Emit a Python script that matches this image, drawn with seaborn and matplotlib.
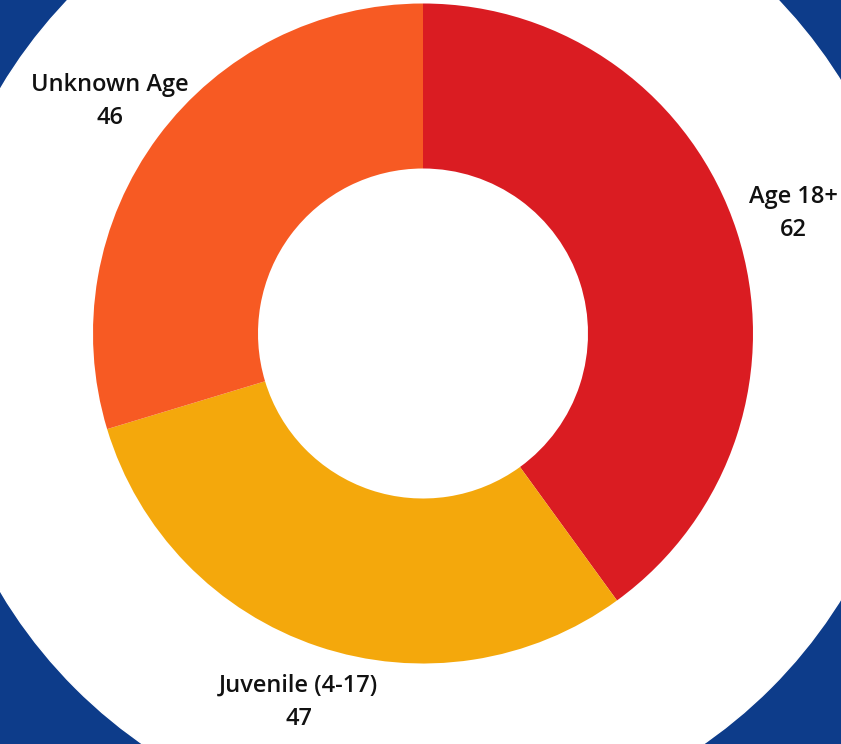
import numpy as np
import matplotlib
matplotlib.use("Agg")
import matplotlib.pyplot as plt
import seaborn as sns

# data
categories = ["Age 18+", "Juvenile (4-17)", "Unknown Age"]
counts = [62, 47, 46]
colors = ["#da1c22", "#f4a80c", "#f75a23"]

BLUE = "#0d3c8a"

sns.set_theme(style="white")
plt.rcParams["font.family"] = ["Open Sans", "DejaVu Sans"]

fig = plt.figure(figsize=(8.41, 7.44), dpi=100, facecolor=BLUE)
ax = fig.add_axes([0, 0, 1, 1])
ax.set_facecolor(BLUE)

# pixel scale: donut radius 330 px, centre at (423, 333.5)
scale = 330.0
xlim = (-423 / scale, (841 - 423) / scale)
ylim = (-(744 - 333.5) / scale, 333.5 / scale)
ax.axis("off")

# big white disc behind the donut
ax.add_patch(plt.Circle((0, -0.02), 1.49, color="white", zorder=0))

labels = [f"{c}\n{v}" for c, v in zip(categories, counts)]
wedges, texts = ax.pie(
    counts,
    labels=labels,
    colors=sns.color_palette(colors),
    startangle=90,
    counterclock=False,
    radius=1.0,
    labeldistance=1.18,
    wedgeprops=dict(width=0.5, edgecolor="none"),
    textprops=dict(fontsize=17, color="#111111", fontweight="semibold"),
)
for t in texts:
    t.set_ha("center")
    t.set_va("center")
    t.set_linespacing(1.5)

ax.set_xlim(*xlim)
ax.set_ylim(*ylim)
ax.set_aspect("equal")

fig.savefig("out.png", dpi=100, facecolor=BLUE)
